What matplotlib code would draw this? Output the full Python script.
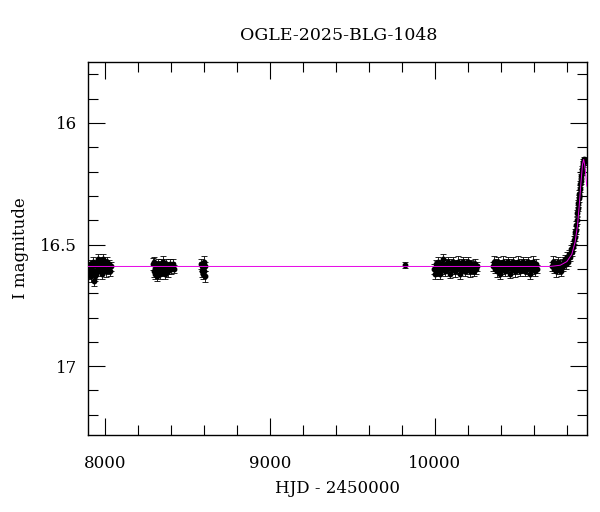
import matplotlib.pyplot as plt
from matplotlib.ticker import MultipleLocator

# OGLE I-band photometry
t_2017 = [7898, 7902, 7905, 7910, 7914, 7918, 7922, 7926, 7930, 7935, 7940, 7944,
          7948, 7952, 7956, 7960, 7965, 7970, 7975, 7980, 7985, 7990, 7996, 8002,
          8008, 8014, 8020, 8026, 8032, 8038]
m_2017 = [16.61, 16.60, 16.62, 16.58, 16.60, 16.63, 16.59, 16.61, 16.57, 16.65, 16.63, 16.58,
          16.62, 16.59, 16.56, 16.61, 16.58, 16.60, 16.57, 16.62, 16.59, 16.56, 16.60, 16.58,
          16.61, 16.57, 16.60, 16.58, 16.61, 16.59]
e_2017 = [0.018, 0.020, 0.022, 0.018, 0.020, 0.022, 0.018, 0.020, 0.018, 0.022, 0.020, 0.018,
          0.020, 0.022, 0.020, 0.018, 0.020, 0.018, 0.020, 0.022, 0.018, 0.020, 0.018, 0.020,
          0.022, 0.018, 0.020, 0.018, 0.020, 0.018]

t_2018 = [8292, 8296, 8300, 8304, 8308, 8312, 8316, 8320, 8325, 8330, 8335, 8340,
          8345, 8350, 8355, 8360, 8365, 8370, 8375, 8380, 8386, 8392, 8398, 8405,
          8412, 8420]
m_2018 = [16.58, 16.61, 16.57, 16.62, 16.59, 16.60, 16.63, 16.58, 16.61, 16.59, 16.62, 16.58,
          16.60, 16.57, 16.61, 16.59, 16.62, 16.58, 16.60, 16.61, 16.59, 16.58, 16.60, 16.59,
          16.58, 16.60]
e_2018 = [0.025, 0.022, 0.020, 0.022, 0.020, 0.022, 0.020, 0.022, 0.020, 0.022, 0.020, 0.022,
          0.020, 0.022, 0.020, 0.022, 0.020, 0.022, 0.020, 0.022, 0.020, 0.022, 0.020, 0.018,
          0.020, 0.018]

t_2019 = [8584, 8588, 8591, 8594, 8597, 8600, 8603, 8606, 8609]
m_2019 = [16.58, 16.61, 16.59, 16.62, 16.60, 16.57, 16.61, 16.63, 16.59]
e_2019 = [0.020, 0.022, 0.020, 0.022, 0.020, 0.022, 0.020, 0.022, 0.020]

t_2022 = [9820]
m_2022 = [16.585]
e_2022 = [0.012]

t_2023 = [9995, 10000, 10005, 10010, 10015, 10020, 10026, 10032, 10038, 10044, 10050, 10056,
          10062, 10068, 10074, 10080, 10086, 10092, 10098, 10104, 10110, 10116, 10122, 10128,
          10134, 10140, 10146, 10152, 10158, 10164, 10170, 10176, 10182, 10188, 10194, 10200,
          10206, 10212, 10218, 10224, 10230, 10236, 10242, 10248, 10255]
m_2023 = [16.60, 16.62, 16.58, 16.61, 16.59, 16.57, 16.60, 16.62, 16.58, 16.60, 16.56, 16.59,
          16.61, 16.58, 16.60, 16.57, 16.59, 16.62, 16.58, 16.60, 16.57, 16.59, 16.61, 16.58,
          16.60, 16.57, 16.59, 16.62, 16.58, 16.60, 16.57, 16.59, 16.61, 16.58, 16.60, 16.57,
          16.59, 16.61, 16.58, 16.60, 16.59, 16.61, 16.58, 16.60, 16.59]
e_2023 = [0.020, 0.022, 0.018, 0.020, 0.022, 0.018, 0.020, 0.022, 0.018, 0.020, 0.022, 0.018,
          0.020, 0.022, 0.018, 0.020, 0.022, 0.018, 0.020, 0.022, 0.018, 0.020, 0.022, 0.018,
          0.020, 0.022, 0.018, 0.020, 0.022, 0.018, 0.020, 0.022, 0.018, 0.020, 0.022, 0.018,
          0.020, 0.022, 0.018, 0.020, 0.022, 0.018, 0.020, 0.022, 0.018]

t_2024 = [10352, 10358, 10364, 10370, 10376, 10382, 10388, 10394, 10400, 10406, 10412, 10418,
          10424, 10430, 10436, 10442, 10448, 10454, 10460, 10466, 10472, 10478, 10484, 10490,
          10496, 10502, 10508, 10514, 10520, 10526, 10532, 10538, 10544, 10550, 10556, 10562,
          10568, 10574, 10580, 10586, 10592, 10598, 10604, 10612, 10620]
m_2024 = [16.59, 16.57, 16.60, 16.58, 16.61, 16.57, 16.59, 16.62, 16.58, 16.60, 16.57, 16.59,
          16.61, 16.58, 16.60, 16.57, 16.59, 16.62, 16.58, 16.60, 16.57, 16.59, 16.61, 16.58,
          16.60, 16.57, 16.59, 16.61, 16.58, 16.60, 16.57, 16.59, 16.61, 16.58, 16.60, 16.57,
          16.59, 16.62, 16.58, 16.60, 16.57, 16.59, 16.61, 16.58, 16.60]
e_2024 = [0.020, 0.022, 0.018, 0.020, 0.022, 0.018, 0.020, 0.022, 0.018, 0.020, 0.022, 0.018,
          0.020, 0.022, 0.018, 0.020, 0.022, 0.018, 0.020, 0.022, 0.018, 0.020, 0.022, 0.018,
          0.020, 0.022, 0.018, 0.020, 0.022, 0.018, 0.020, 0.022, 0.018, 0.020, 0.022, 0.018,
          0.020, 0.022, 0.018, 0.020, 0.022, 0.018, 0.020, 0.022, 0.018]

t_2025 = [10712, 10718, 10724, 10730, 10736, 10742, 10748, 10754, 10760, 10766, 10772, 10778,
          10784, 10790, 10796, 10802, 10808, 10814, 10820, 10826, 10832, 10836, 10840, 10844,
          10848, 10851, 10854, 10857, 10860, 10863, 10866, 10869, 10872, 10875, 10878, 10881,
          10884, 10887, 10890, 10893, 10896, 10899, 10902, 10905]
m_2025 = [16.59, 16.57, 16.60, 16.58, 16.61, 16.59, 16.57, 16.60, 16.58, 16.61, 16.58, 16.59,
          16.57, 16.56, 16.58, 16.55, 16.57, 16.54, 16.55, 16.52, 16.53, 16.50, 16.51, 16.48,
          16.47, 16.45, 16.44, 16.42, 16.40, 16.37, 16.35, 16.33, 16.31, 16.29, 16.27, 16.25,
          16.24, 16.22, 16.20, 16.19, 16.17, 16.16, 16.15, 16.16]
e_2025 = [0.020, 0.022, 0.018, 0.020, 0.022, 0.018, 0.020, 0.022, 0.018, 0.020, 0.022, 0.018,
          0.020, 0.018, 0.020, 0.018, 0.020, 0.018, 0.018, 0.018, 0.016, 0.016, 0.016, 0.016,
          0.015, 0.015, 0.015, 0.015, 0.014, 0.014, 0.014, 0.014, 0.013, 0.013, 0.013, 0.013,
          0.012, 0.012, 0.012, 0.012, 0.012, 0.012, 0.012, 0.012]

# microlensing model curve
model_t = [7897, 10700, 10760, 10800, 10830, 10850, 10865, 10875, 10885, 10895, 10902,
           10910, 10921]
model_m = [16.59, 16.59, 16.585, 16.57, 16.54, 16.49, 16.42, 16.34, 16.25, 16.17, 16.15,
           16.18, 16.26]

seasons = [(t_2017, m_2017, e_2017), (t_2018, m_2018, e_2018), (t_2019, m_2019, e_2019),
           (t_2022, m_2022, e_2022), (t_2023, m_2023, e_2023), (t_2024, m_2024, e_2024),
           (t_2025, m_2025, e_2025)]

plt.rcParams['font.family'] = 'DejaVu Serif'

fig = plt.figure(figsize=(6, 5.12), dpi=100)
ax = fig.add_axes([0.1467, 0.150, 0.8313, 0.729])

for t, m, e in seasons:
    ax.errorbar(t, m, yerr=e, fmt='o', color='black', ms=3.2, elinewidth=0.6,
                capsize=2, capthick=0.6)

ax.plot(model_t, model_m, color='#e600e6', lw=0.7, zorder=5)

ax.set_xlim(7897, 10921)
ax.set_ylim(17.284, 15.749)
ax.xaxis.set_major_locator(MultipleLocator(1000))
ax.xaxis.set_minor_locator(MultipleLocator(200))
ax.yaxis.set_major_locator(MultipleLocator(0.5))
ax.yaxis.set_minor_locator(MultipleLocator(0.1))
ax.tick_params(which='both', direction='in', top=True, right=True, width=0.8, labelsize=12)
ax.tick_params(which='major', length=12)
ax.tick_params(which='minor', length=7)
ax.tick_params(axis='x', which='major', pad=14)
ax.tick_params(axis='y', which='major', pad=8)
ax.yaxis.set_major_formatter(plt.FuncFormatter(lambda v, p: f'{v:g}'))
for s in ax.spines.values():
    s.set_linewidth(1.0)

ax.set_xlabel('HJD - 2450000', fontsize=12, labelpad=6)
ax.set_ylabel('I magnitude', fontsize=12, labelpad=8)
fig.text(0.565, 0.930, 'OGLE-2025-BLG-1048', fontsize=12.5, ha='center', va='center')

fig.savefig('out.png', dpi=100)
